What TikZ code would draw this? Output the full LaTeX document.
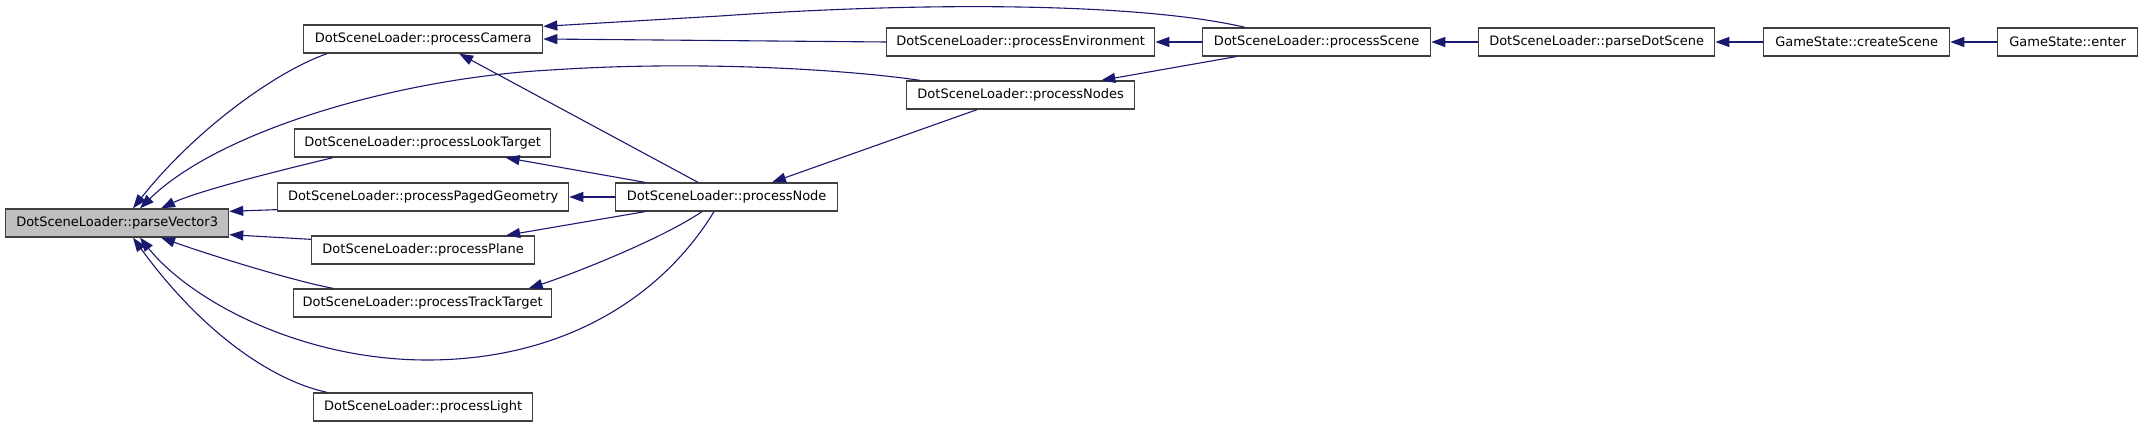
\documentclass[tikz,border=0pt]{standalone}
\usepackage{fontspec}
\setmainfont{DejaVu Sans}
\usetikzlibrary{arrows.meta}
\definecolor{edgecol}{HTML}{191970}
\definecolor{boxcol}{HTML}{404040}
\definecolor{hilite}{HTML}{BFBFBF}
\tikzset{
  fn/.style={draw=boxcol, line width=1.3pt, fill=white, inner sep=0pt, minimum height=28pt, anchor=west, font=\fontsize{13}{15}\selectfont, text=black},
  cur/.style={fn, fill=hilite},
  edge/.style={draw=edgecol, line width=1.1pt, -{Triangle[length=14pt,width=10pt]}},
}
\begin{document}
\begin{tikzpicture}[x=1pt,y=-1pt]
\useasboundingbox[fill=white] (0,0) rectangle (2141,427);
% nodes
\node[cur, minimum width=223pt] (pv)  at (5,223)   {DotSceneLoader::parseVector3};
\node[fn,  minimum width=239pt] (pc)  at (303,39)  {DotSceneLoader::processCamera};
\node[fn,  minimum width=256pt] (plt) at (294,143) {DotSceneLoader::processLookTarget};
\node[fn,  minimum width=291pt] (ppg) at (277,197) {DotSceneLoader::processPagedGeometry};
\node[fn,  minimum width=223pt] (ppl) at (311,250) {DotSceneLoader::processPlane};
\node[fn,  minimum width=258pt] (ptt) at (293,303) {DotSceneLoader::processTrackTarget};
\node[fn,  minimum width=219pt] (pli) at (313,407) {DotSceneLoader::processLight};
\node[fn,  minimum width=222pt] (pn)  at (615,197) {DotSceneLoader::processNode};
\node[fn,  minimum width=268pt] (pe)  at (886,42)  {DotSceneLoader::processEnvironment};
\node[fn,  minimum width=228pt] (pns) at (906,95)  {DotSceneLoader::processNodes};
\node[fn,  minimum width=228pt] (ps)  at (1202,42) {DotSceneLoader::processScene};
\node[fn,  minimum width=236pt] (pds) at (1478,42) {DotSceneLoader::parseDotScene};
\node[fn,  minimum width=186pt] (cs)  at (1763,42) {GameState::createScene};
\node[fn,  minimum width=140pt] (en)  at (1997,42) {GameState::enter};
% edges into parseVector3
\draw[edge] ([xshift=24pt]pc.south west) .. controls (275,72) and (195,130) .. ([xshift=128pt]pv.north west);
\draw[edge] ([xshift=14pt]pns.north west) .. controls (850,70) and (700,60) .. (551,70)
            .. controls (400,78) and (220,130) .. ([xshift=135pt]pv.north west);
\draw[edge] ([xshift=39pt]plt.south west) .. controls (290,168) and (200,190) .. ([xshift=156pt]pv.north west);
\draw[edge] ([yshift=2pt]ppg.south west) -- ([yshift=-3pt]pv.north east);
\draw[edge] ([yshift=-4pt]ppl.north west) -- ([yshift=3pt]pv.south east);
\draw[edge] ([xshift=40pt]ptt.north west) .. controls (290,280) and (210,255) .. ([xshift=156pt]pv.south west);
\draw[edge] ([xshift=99pt]pn.south west) .. controls (660,300) and (560,360) .. (427,360)
            .. controls (300,360) and (190,300) .. ([xshift=135pt]pv.south west);
\draw[edge] ([xshift=14pt]pli.north west) .. controls (270,380) and (200,330) .. ([xshift=128pt]pv.south west);
% edges from processNode
\draw[edge] ([xshift=83pt]pn.north west) -- ([xshift=36pt]pc.south);
\draw[edge] ([xshift=30pt]pn.north west) -- ([xshift=83pt]plt.south);
\draw[edge] (pn.west) -- (ppg.east);
\draw[edge] ([xshift=30pt]pn.south west) -- ([xshift=83pt]ppl.north);
\draw[edge] ([xshift=87pt]pn.south west) .. controls (660,240) and (570,275) .. ([xshift=106pt]ptt.north);
% upper edges
\draw[edge] ([xshift=71pt]pns.south west) -- ([xshift=157pt]pn.north west);
\draw[edge] ([xshift=43pt]ps.north west) .. controls (1150,5) and (950,0) .. (720,16) -- ([yshift=-2pt]pc.north east);
\draw[edge] (pe.west) -- (pc.east);
\draw[edge] (ps.west) -- (pe.east);
\draw[edge] ([xshift=34pt]ps.south west) -- ([xshift=-34pt]pns.north east);
\draw[edge] (pds.west) -- (ps.east);
\draw[edge] (cs.west) -- (pds.east);
\draw[edge] (en.west) -- (cs.east);
\end{tikzpicture}
\end{document}
